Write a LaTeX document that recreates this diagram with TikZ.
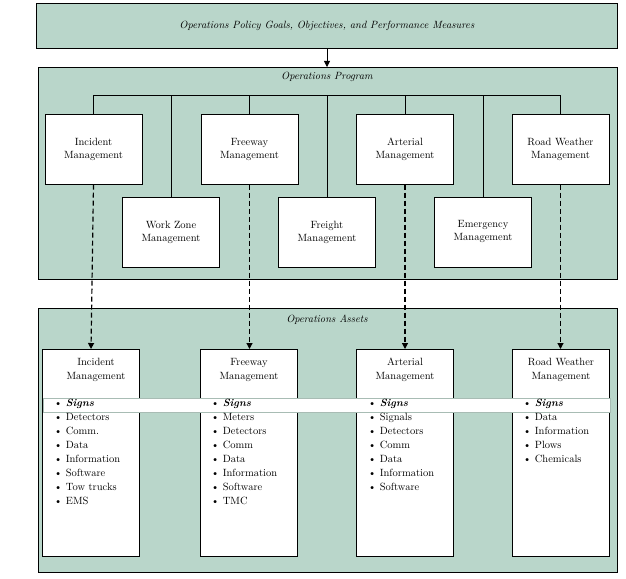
\documentclass[tikz,border=0pt]{standalone}
\usetikzlibrary{positioning,arrows.meta}
\definecolor{panelgreen}{HTML}{B9D6CA}
\tikzset{
  panel/.style={draw, thick, fill=panelgreen},
  mgmtbox/.style={draw, fill=white, minimum width=97pt, minimum height=70pt, align=center, font=\fontsize{10.5}{13}\selectfont},
  assetbox/.style={draw, fill=white, minimum width=97pt, minimum height=207pt},
  heading/.style={align=center, font=\fontsize{10.5}{14}\selectfont},
  itemlist/.style={anchor=north west, align=left, inner sep=0pt, font=\fontsize{10.5}{14}\selectfont},
  dasharrow/.style={very thick, dash pattern=on 5pt off 3pt, -{Triangle[length=6pt,width=6pt]}}
}
\newcommand{\bul}{\textbullet\ }
\begin{document}
\begin{tikzpicture}[x=1pt,y=-1pt]
  \useasboundingbox (0,0) rectangle (626,578);
  % top box
  \node[panel, minimum width=581pt, minimum height=45pt, anchor=north west] (goals) at (36,3)
    {\fontsize{10.5}{12}\selectfont\itshape Operations Policy Goals, Objectives, and Performance Measures};
  % program panel
  \node[panel, minimum width=579pt, minimum height=212pt, anchor=north west] (program) at (38,67) {};
  \node[font=\fontsize{10.5}{12}\selectfont\itshape] (progtitle) at (327,77) {Operations Program};
  \draw[thick, -{Triangle[length=6pt,width=6pt]}] (goals.south -| 327,0) -- (program.north -| 327,0);
  % management boxes
  \node[mgmtbox] (inc) at (93.5,149.5) {Incident\\Management};
  \node[mgmtbox] (fwy) at (249.5,149.5) {Freeway\\Management};
  \node[mgmtbox] (art) at (405,149.5) {Arterial\\Management};
  \node[mgmtbox] (rwm) at (560.5,149.5) {Road Weather\\Management};
  \node[mgmtbox] (wz) at (171,232) {Work Zone\\Management};
  \node[mgmtbox] (frt) at (327,232) {Freight\\Management};
  \node[mgmtbox] (emg) at (483,232) {Emergency\\Management};
  \coordinate (busL) at (93.5,95);
  \coordinate (busR) at (560.5,95);
  \draw (busL) -- (busR);
  \foreach \b in {inc,fwy,art,rwm,wz,frt,emg}
    \draw (\b.north) -- (\b.north |- busL);
  % assets panel
  \node[panel, minimum width=579pt, minimum height=264pt, anchor=north west] (assets) at (38,308) {};
  \node[font=\fontsize{10.5}{12}\selectfont\itshape] (asstitle) at (327,320) {Operations Assets};
  \node[assetbox, anchor=north] (ainc) at (91,349) {};
  \node[assetbox, anchor=north] (afwy) at (248.5,349) {};
  \node[assetbox, anchor=north] (aart) at (405,349) {};
  \node[assetbox, anchor=north] (arwm) at (561,349) {};
  % signs band
  \fill[white, draw=panelgreen!70!gray] (43,398) rectangle (610,412);
  \node[heading] at (96,370) {Incident\\Management};
  \node[heading] at (249,370) {Freeway\\Management};
  \node[heading] at (405,370) {Arterial\\Management};
  \node[heading] at (561,370) {Road Weather\\Management};
  \node[itemlist] (linc) at (54,399) {\bul\textbf{\textit{Signs}}\\\bul Detectors\\\bul Comm.\\\bul Data\\\bul Information\\\bul Software\\\bul Tow trucks\\\bul EMS};
  \node[itemlist] (lfwy) at (211,399) {\bul\textbf{\textit{Signs}}\\\bul Meters\\\bul Detectors\\\bul Comm\\\bul Data\\\bul Information\\\bul Software\\\bul TMC};
  \node[itemlist] (lart) at (368,399) {\bul\textbf{\textit{Signs}}\\\bul Signals\\\bul Detectors\\\bul Comm\\\bul Data\\\bul Information\\\bul Software};
  \node[itemlist] (lrwm) at (523,399) {\bul\textbf{\textit{Signs}}\\\bul Data\\\bul Information\\\bul Plows\\\bul Chemicals};
  % dashed links
  \draw[dasharrow] (inc.south) -- (ainc.north);
  \draw[dasharrow] (fwy.south) -- (afwy.north -| fwy.south);
  \draw[dasharrow] (art.south) -- (aart.north);
  \draw[dasharrow] (rwm.south) -- (arwm.north -| rwm.south);
\end{tikzpicture}
\end{document}
